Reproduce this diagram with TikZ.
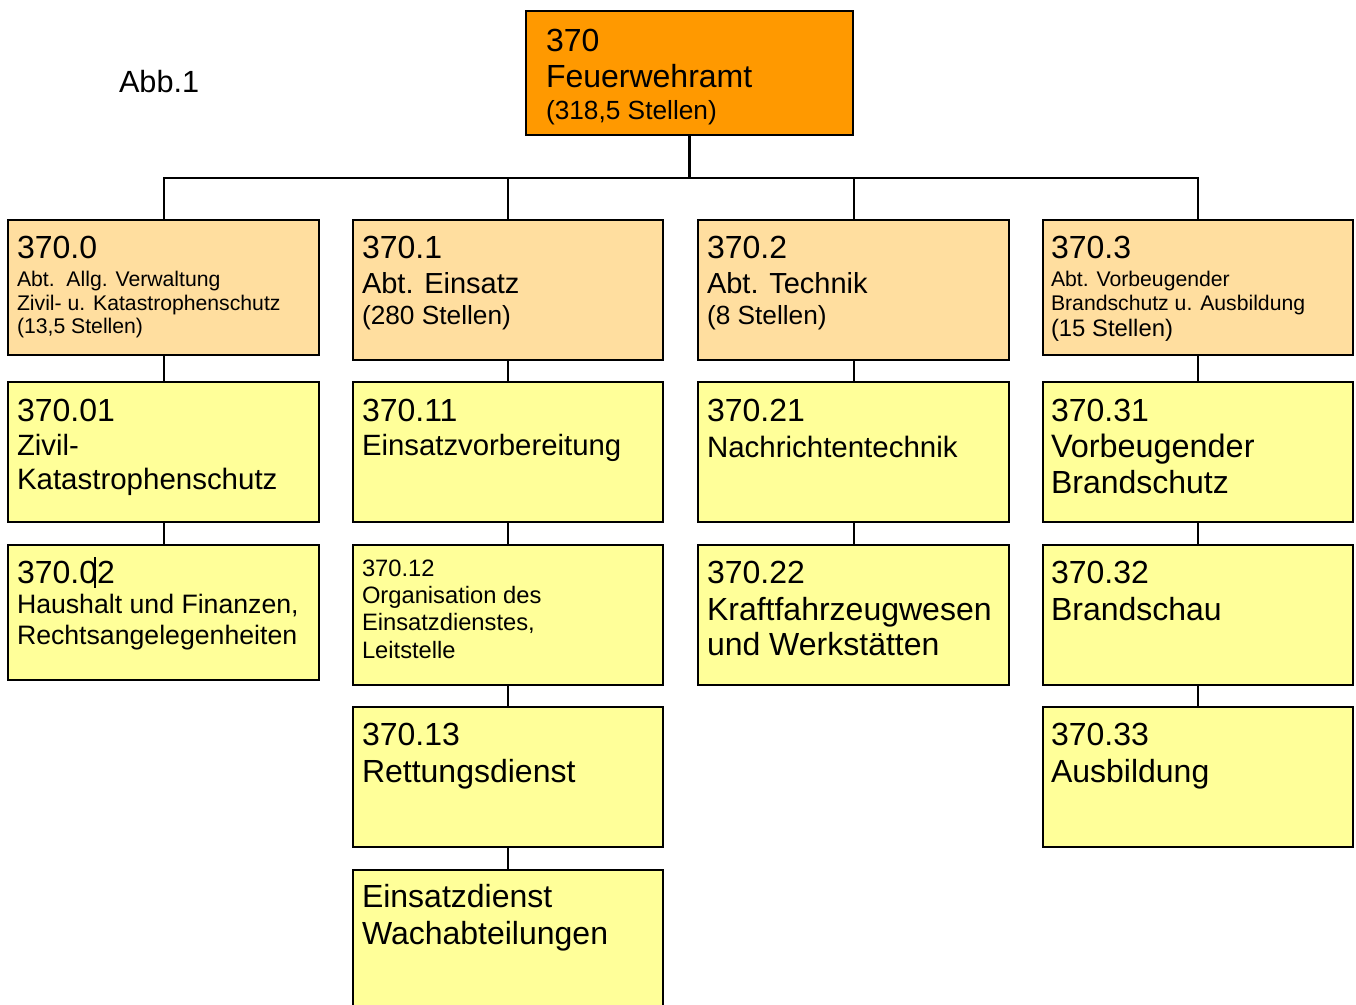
\documentclass[tikz,border=0pt]{standalone}
\usepackage{fontspec}
\setmainfont{Liberation Sans}
\usetikzlibrary{fit}
\definecolor{topfill}{HTML}{FF9900}
\definecolor{abtfill}{HTML}{FFDE9F}
\definecolor{secfill}{HTML}{FFFF99}
\tikzset{
  boxbase/.style={draw=black,line width=1.5pt,inner sep=0pt,outer sep=0pt},
  topbox/.style={boxbase,fill=topfill},
  abtbox/.style={boxbase,fill=abtfill},
  secbox/.style={boxbase,fill=secfill},
  conn/.style={draw=black,line width=1.5pt},
  txt/.style={anchor=base west,inner sep=0pt,outer sep=0pt}
}
\newcommand\bx[6]{\node[#2,fit={(#3,#4) (#5,#6)}] (#1) {};}
\newcommand\tl[5]{\node[txt,font=\fontsize{#4}{#4}\selectfont] (#1) at (#2,#3) {#5};}
\begin{document}
\begin{tikzpicture}[x=0.75pt,y=-0.75pt]
\useasboundingbox (0,0) rectangle (1356,1004);
\clip (0,0) rectangle (1356,1004);
% boxes
\bx{top}{topbox}{526}{11}{853}{135}
\bx{b0}{abtbox}{8}{220}{319}{355}
\bx{b1}{abtbox}{353}{220}{663}{360}
\bx{b2}{abtbox}{698}{220}{1009}{360}
\bx{b3}{abtbox}{1043}{220}{1353}{355}
\bx{b01}{secbox}{8}{382}{319}{522}
\bx{b11}{secbox}{353}{382}{663}{522}
\bx{b21}{secbox}{698}{382}{1009}{522}
\bx{b31}{secbox}{1043}{382}{1353}{522}
\bx{b02}{secbox}{8}{545}{319}{680}
\bx{b12}{secbox}{353}{545}{663}{685}
\bx{b22}{secbox}{698}{545}{1009}{685}
\bx{b32}{secbox}{1043}{545}{1353}{685}
\bx{b13}{secbox}{353}{707}{663}{847}
\bx{b33}{secbox}{1043}{707}{1353}{847}
\bx{b14}{secbox}{353}{870}{663}{1015}
% connectors
\coordinate (bus) at (0,178);
\draw[conn,line width=1.9pt] (top.south) -- (top.south |- bus);
\draw[conn] (b0.north) |- (b3.north |- bus) -- (b3.north);
\draw[conn] (b1.north) -- (b1.north |- bus);
\draw[conn] (b2.north) -- (b2.north |- bus);
\draw[conn] (b0.south) -- (b01.north);
\draw[conn] (b01.south) -- (b02.north);
\draw[conn] (b1.south) -- (b11.north);
\draw[conn] (b11.south) -- (b12.north);
\draw[conn] (b12.south) -- (b13.north);
\draw[conn] (b13.south) -- (b14.north);
\draw[conn] (b2.south) -- (b21.north);
\draw[conn] (b21.south) -- (b22.north);
\draw[conn] (b3.south) -- (b31.north);
\draw[conn] (b31.south) -- (b32.north);
\draw[conn] (b32.south) -- (b33.north);
% texts
\tl{abb}{119}{92}{23}{Abb.1}
\tl{t1}{546}{51}{24}{370}
\tl{t2}{546}{87}{24}{Feuerwehramt}
\tl{t3}{546}{119}{19.7}{(318,5 Stellen)}
% level 1
\tl{a01}{17}{258}{24}{370.0}
\tl{a02}{17}{286}{15.9}{Abt.\ \ Allg. Verwaltung}
\tl{a03}{17}{310}{15.9}{Zivil- u. Katastrophenschutz}
\tl{a04}{17}{333}{15.9}{(13,5 Stellen)}
\tl{a11}{362}{258}{24}{370.1}
\tl{a12}{362}{293}{21.75}{Abt. Einsatz}
\tl{a13}{362}{324}{19.7}{(280 Stellen)}
\tl{a21}{707}{258}{24}{370.2}
\tl{a22}{707}{293}{21.75}{Abt. Technik}
\tl{a23}{707}{324}{19.7}{(8 Stellen)}
\tl{a31}{1051}{258}{24}{370.3}
\tl{a32}{1051}{286}{15.9}{Abt. Vorbeugender}
\tl{a33}{1051}{310}{15.9}{Brandschutz u. Ausbildung}
\tl{a34}{1051}{336}{17.9}{(15 Stellen)}
% level 2
\tl{c01}{17}{421}{24}{370.01}
\tl{c02}{17}{455}{22}{Zivil-}
\tl{c03}{17}{489}{22.1}{Katastrophenschutz}
\tl{c11}{362}{421}{24}{370.11}
\tl{c12}{362}{455}{22}{Einsatzvorbereitung}
\tl{c21}{707}{421}{24}{370.21}
\tl{c22}{707}{457}{22.1}{Nachrichtentechnik}
\tl{c31}{1051}{421}{24}{370.31}
\tl{c32}{1051}{457}{24.3}{Vorbeugender}
\tl{c33}{1051}{493}{24}{Brandschutz}
% level 3
\tl{d01}{17}{583}{24}{370.02}
\draw[line width=0.8pt] (95,557) -- (95,588);
\tl{d02}{17}{613}{20}{Haushalt und Finanzen,}
\tl{d03}{17}{644}{20}{Rechtsangelegenheiten}
\tl{d11}{362}{576}{17.8}{370.12}
\tl{d12}{362}{603}{17.8}{Organisation des}
\tl{d13}{362}{630}{17.8}{Einsatzdienstes,}
\tl{d14}{362}{658}{17.8}{Leitstelle}
\tl{d21}{707}{583}{24}{370.22}
\tl{d22}{707}{620}{24}{Kraftfahrzeugwesen}
\tl{d23}{707}{655}{24}{und Werkstätten}
\tl{d31}{1051}{583}{24}{370.32}
\tl{d32}{1051}{620}{24}{Brandschau}
% level 4
\tl{e11}{362}{745}{24}{370.13}
\tl{e12}{362}{782}{24}{Rettungsdienst}
\tl{e31}{1051}{745}{24}{370.33}
\tl{e32}{1051}{782}{24}{Ausbildung}
% level 5
\tl{f11}{362}{907}{24}{Einsatzdienst}
\tl{f12}{362}{944}{24}{Wachabteilungen}
\end{tikzpicture}
\end{document}
